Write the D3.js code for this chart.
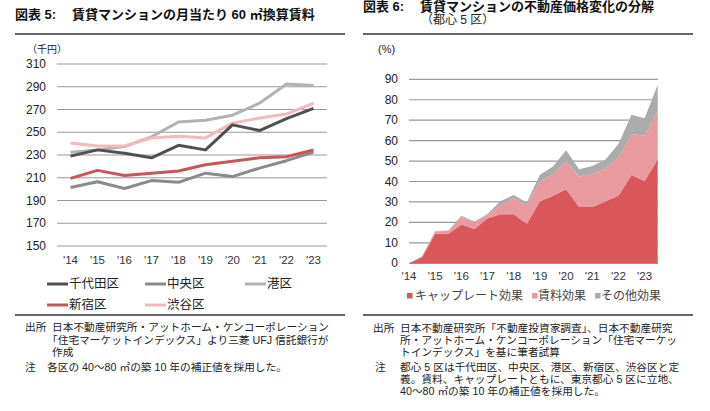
<!DOCTYPE html>
<html><head><meta charset="utf-8">
<script src="https://cdn.jsdelivr.net/npm/d3@7"></script>
<style>
body{margin:0;background:#fff;}
svg{display:block;font-family:"Liberation Sans",Arial,"Noto Sans CJK JP",sans-serif;}
</style></head>
<body>
<svg id="c" width="710" height="411"></svg>
<script>
// ---- Left chart data (千円) ----
const years = ["'14","'15","'16","'17","'18","'19","'20","'21","'22","'23"];
const chiyoda = [229,234.5,231.5,227.5,238.5,234.5,256.5,251.5,262,271];
const chuo    = [201.5,206.5,200.5,207.5,206,214,211,218.5,225,232.5];
const minato  = [232.5,234.5,237.5,246,259,260.5,265,275.5,292.5,291];
const shinjuku= [209.5,216.5,212,214,216,221.5,224.5,227.5,228.5,234.5];
const shibuya = [240.5,238,238,245,246.5,245,258,262.5,266,275.5];
const leftSeriesNames = ["千代田区","中央区","港区","新宿区","渋谷区"];
const leftTicks = [150,170,190,210,230,250,270,290,310];

// ---- Right chart data (%) semi-annual, '14 H1 .. '23 H2 ----
const halfYears = ["14H1","14H2","15H1","15H2","16H1","16H2","17H1","17H2","18H1","18H2","19H1","19H2","20H1","20H2","21H1","21H2","22H1","22H2","23H1","23H2"];
const capEffect   = [0,3,14.4,14.4,19,16.8,22,24,24,19.4,30.4,33,36.2,27.5,27.5,30.2,33.2,43.2,40.2,50.8];
const rentEffect  = [0,0.5,1.1,1.4,3.8,3.1,1.5,4.5,7.8,9.1,9.6,10.5,13.6,15,16.2,16.3,18.3,20.1,22.2,23.7];
const otherEffect = [0,0.1,0.3,0.3,0.5,0.5,0.6,2,1.6,1.2,3.3,3.9,5.5,3.5,3.9,4.1,6.8,9.3,8.6,12.8];
const rightXLabels = ["'14","'15","'16","'17","'18","'19","'20","'21","'22","'23"];
const rightTicks = [0,10,20,30,40,50,60,70,80,90];
const rightSeriesNames = ["キャップレート効果","賃料効果","その他効果"];

const svg = d3.select("#c");
svg.append("rect").attr("width",710).attr("height",411).attr("fill","#fff");

// ---------- Titles ----------
function boldText(x, y, t){
  svg.append("text").attr("x",x).attr("y",y).attr("font-size",13).attr("font-weight","bold")
    .attr("fill","#111").attr("dominant-baseline","central").text(t);
}
boldText(15,14,"図表 5:");
boldText(72,14,"賃貸マンションの月当たり 60 ㎡換算賃料");
boldText(363,6,"図表 6:");
boldText(420,6,"賃貸マンションの不動産価格変化の分解");
svg.append("text").attr("x",421).attr("y",20).attr("font-size",12)
  .attr("dominant-baseline","central").attr("fill","#222").text("（都心 5 区）");

// rule lines
[[15,345,34],[15,345,315],[363,693,34],[363,693,315]].forEach(([x1,x2,y])=>{
  svg.append("line").attr("x1",x1).attr("x2",x2).attr("y1",y).attr("y2",y)
    .attr("stroke","#666").attr("stroke-width",2.2);
});

// ---------- Left chart ----------
const xL = d3.scalePoint().domain(years).range([57,327]).padding(0.5);
const yL = d3.scaleLinear().domain([150,310]).range([246,64]);
const gL = svg.append("g");
gL.selectAll("line.grid").data(leftTicks).join("line")
  .attr("x1",57).attr("x2",327).attr("y1",d=>yL(d)).attr("y2",d=>yL(d))
  .attr("stroke","#999").attr("stroke-width",1.2);
gL.selectAll("text.yt").data(leftTicks).join("text")
  .attr("x",46).attr("y",d=>yL(d)).attr("text-anchor","end").attr("dominant-baseline","central")
  .attr("font-size",12).attr("fill","#222").text(d=>d);
gL.selectAll("text.xt").data(years).join("text")
  .attr("x",d=>xL(d)).attr("y",260).attr("text-anchor","middle").attr("dominant-baseline","central")
  .attr("font-size",11.5).attr("fill","#333").text(d=>d);
svg.append("text").attr("x",27).attr("y",49).attr("font-size",10).attr("dominant-baseline","central")
  .attr("fill","#222").text("（千円）");

const leftColors = ["#505050","#8a8a8a","#b2b2b2","#c9545a","#f2babe"];
const leftData = [chiyoda,chuo,minato,shinjuku,shibuya];
const line = d3.line().x((d,i)=>xL(years[i])).y(d=>yL(d));
[2,1,4,3,0].forEach(k=>{
  gL.append("path").datum(leftData[k]).attr("d",line).attr("fill","none")
    .attr("stroke",leftColors[k]).attr("stroke-width",3).attr("stroke-linejoin","round");
});

// left legend
const legPos = [[47,284],[145,284],[245,284],[47,305],[145,305]];
leftSeriesNames.forEach((n,k)=>{
  const [x,y] = legPos[k];
  svg.append("line").attr("x1",x).attr("x2",x+21).attr("y1",y).attr("y2",y)
    .attr("stroke",leftColors[k]).attr("stroke-width",3);
  svg.append("text").attr("x",x+22).attr("y",y).attr("dominant-baseline","central")
    .attr("font-size",12.5).attr("fill","#222").text(n);
});

// ---------- Right chart ----------
const xR = d3.scaleLinear().domain([0,halfYears.length-1]).range([409,657.7]);
const yR = d3.scaleLinear().domain([0,90]).range([263.3,79.3]);
const gR = svg.append("g");
gR.selectAll("line.grid").data(rightTicks).join("line")
  .attr("x1",409).attr("x2",658).attr("y1",d=>yR(d)).attr("y2",d=>yR(d))
  .attr("stroke","#999").attr("stroke-width",1.2);
gR.selectAll("text.yt").data(rightTicks).join("text")
  .attr("x",398).attr("y",d=>yR(d)).attr("text-anchor","end").attr("dominant-baseline","central")
  .attr("font-size",12).attr("fill","#222").text(d=>d);
gR.selectAll("text.xt").data(rightXLabels).join("text")
  .attr("x",(d,i)=>xR(i*2)).attr("y",276).attr("text-anchor","middle").attr("dominant-baseline","central")
  .attr("font-size",11.5).attr("fill","#333").text(d=>d);
svg.append("text").attr("x",378).attr("y",49).attr("font-size",11).attr("dominant-baseline","central")
  .attr("fill","#222").text("(%)");

const tableR = halfYears.map((h,i)=>({cap:capEffect[i],rent:rentEffect[i],other:otherEffect[i]}));
const stack = d3.stack().keys(["cap","rent","other"])(tableR);
const rightColors = ["#d9575b","#e99a9f","#ababab"];
const area = d3.area().x((d,i)=>xR(i)).y0(d=>yR(d[0])).y1(d=>yR(d[1]));
gR.selectAll("path.area").data(stack).join("path")
  .attr("d",area).attr("fill",(d,i)=>rightColors[i]);

// right legend
const rLeg = [[407,415],[532,538],[595,601]];
rightSeriesNames.forEach((n,k)=>{
  const [sx,tx] = rLeg[k];
  svg.append("rect").attr("x",sx).attr("y",293).attr("width",5.5).attr("height",5.5).attr("fill",rightColors[k]);
  svg.append("text").attr("x",tx).attr("y",296).attr("dominant-baseline","central")
    .attr("font-size",12).attr("fill","#444").text(n);
});

// ---------- Notes ----------
function note(x,y,t){
  svg.append("text").attr("x",x).attr("y",y).attr("font-size",10.7).attr("dominant-baseline","central")
    .attr("fill","#222").text(t);
}
note(25,327,"出所");
note(52,327,"日本不動産研究所・アットホーム・ケンコーポレーション");
note(47,340,"「住宅マーケットインデックス」より三菱 UFJ 信託銀行が");
note(52,352,"作成");
note(25,367,"注");
note(47,367,"各区の 40～80 ㎡の築 10 年の補正値を採用した。");

note(373,328,"出所");
note(400,328,"日本不動産研究所「不動産投資家調査」、日本不動産研究");
note(400,340,"所・アットホーム・ケンコーポレーション「住宅マーケッ");
note(400,352,"トインデックス」を基に筆者試算");
note(375,367,"注");
note(400,367,"都心 5 区は千代田区、中央区、港区、新宿区、渋谷区と定");
note(400,379,"義。賃料、キャップレートともに、東京都心 5 区に立地、");
note(400,391,"40～80 ㎡の築 10 年の補正値を採用した。");
</script>
</body></html>
